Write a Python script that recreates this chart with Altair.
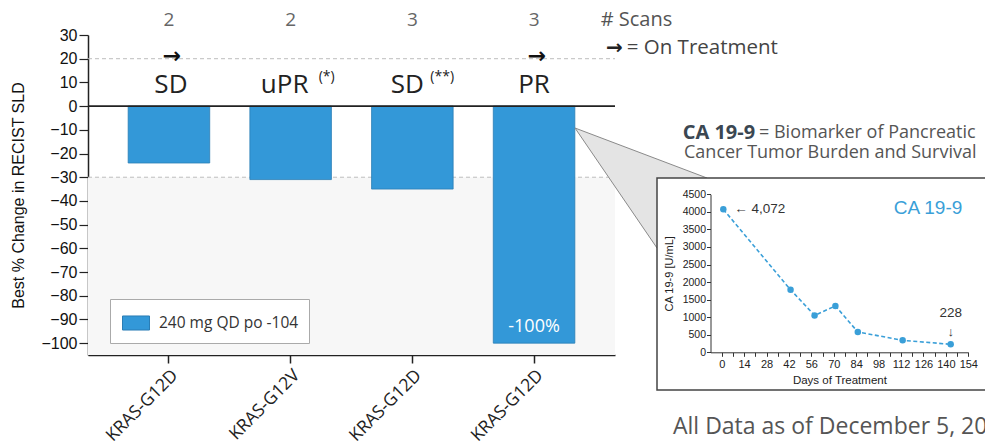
import json
import altair as alt
import pandas as pd

# ---------------- data ----------------
patients = ["P1", "P2", "P3", "P4"]
mutations = ["KRAS-G12D", "KRAS-G12V", "KRAS-G12D", "KRAS-G12D"]
best_change = [-24, -31, -35, -100]
scan_counts = [2, 2, 3, 3]
responses = ["SD", "uPR", "SD", "PR"]
superscripts = ["", "(*)", "(**)", ""]
on_treatment = [True, False, False, True]
dose_label = "240 mg QD po -104"
change_ticks = [30, 20, 10, 0, -10, -20, -30, -40, -50, -60, -70, -80, -90, -100]
reference_lines = [20, -30]

ca_days = [1, 43, 58, 71, 85, 113, 143]
ca_values = [4072, 1780, 1050, 1320, 580, 340, 228]
day_ticks = [0, 7, 14, 21, 28, 35, 42, 49, 56, 63, 70, 77, 84, 91, 98, 105,
             112, 119, 126, 133, 140, 147, 154]
ca_ticks = [0, 500, 1000, 1500, 2000, 2500, 3000, 3500, 4000, 4500]

# ---------------- styles ----------------
W, H = 527, 320
SANS = "Open Sans"
ARIAL = "Liberation Sans"
BAR = "#3398d8"
BAR_EDGE = "#2a7db5"
CA_BLUE = "#3a9fd8"

df = pd.DataFrame({
    "patient": patients, "mutation": mutations, "change": best_change,
    "scans": scan_counts, "response": responses, "sup": superscripts,
    "on": on_treatment, "dose": [dose_label] * len(patients),
})
one = pd.DataFrame({"k": [0]})

label_expr = f"{json.dumps(mutations)}[indexof({json.dumps(patients)}, datum.value)]"

x_scale = alt.Scale(domain=patients, paddingInner=0.33, paddingOuter=0.33)
x_axis = alt.Axis(title=None, labelExpr=label_expr, labelAngle=-45, labelFont=SANS,
                  labelFontSize=17.5, labelColor="#222", tickSize=8, tickColor="#222",
                  tickWidth=1.5, domainColor="#222", domainWidth=1.5, labelPadding=3,
                  grid=False)
y_scale = alt.Scale(domain=[-105, 30], nice=False, zero=False)
y_axis = alt.Axis(title="Best % Change in RECIST SLD", values=change_ticks, labelFont=ARIAL,
                  labelFontSize=16, labelColor="#111", tickSize=9, tickColor="#222",
                  tickWidth=1.2, domainColor="#222", domainWidth=1.5, labelPadding=2,
                  titleFont=ARIAL, titleFontSize=16, titleFontWeight="normal",
                  titleColor="#111", titlePadding=14, grid=False, labelOverlap=False)


def X():
    return alt.X("patient:N", scale=x_scale, axis=x_axis, sort=patients)


def Yf(field):
    return alt.Y(field, scale=y_scale, axis=y_axis)


def Yd(v):
    return alt.YDatum(v, type="quantitative", scale=y_scale, axis=y_axis)


base = alt.Chart(df)

bg = alt.Chart(one).mark_rect(color="#f7f7f7").encode(
    x=alt.value(0), x2=alt.value(W), y=Yd(-30), y2=alt.Y2Datum(-105))

refs = alt.Chart(pd.DataFrame({"level": reference_lines})).mark_rule(
    color="#bdbdbd", strokeDash=[4, 3], strokeWidth=1).encode(
    x=alt.value(0), x2=alt.value(W), y=Yf("level:Q"))

bars = base.mark_bar(stroke=BAR_EDGE, strokeWidth=0.8).encode(
    x=X(), y=Yf("change:Q"), y2=alt.Y2Datum(0),
    color=alt.Color("dose:N", scale=alt.Scale(domain=[dose_label], range=[BAR]),
                    legend=alt.Legend(orient="none", legendX=22, legendY=264, title=None,
                                      symbolType="M-1,-0.52H1V0.52H-1Z", symbolSize=729,
                                      symbolStrokeColor=BAR_EDGE, symbolStrokeWidth=1,
                                      labelFont=SANS, labelFontSize=15.5, labelColor="#333",
                                      labelOffset=9, padding=10, strokeColor="#aaaaaa",
                                      fillColor="white", symbolOffset=2, labelLimit=300)))

zero = alt.Chart(one).mark_rule(color="#222", strokeWidth=1.8).encode(
    x=alt.value(0), x2=alt.value(W), y=Yd(0))

counts = base.mark_text(font=SANS, fontSize=19, color="#666").encode(
    x=X(), y=Yd(36.3), text="scans:Q")

arrows = base.transform_filter("datum.on").mark_text(
    text="→", font="DejaVu Sans", fontSize=22, fontWeight="bold", color="#111", dx=3).encode(
    x=X(), y=Yd(21))

pct = base.transform_filter(f"datum.patient == '{patients[3]}'").transform_calculate(
    t="'' + datum.change + '%'").mark_text(
    font=SANS, fontSize=18, color="white").encode(x=X(), y=Yd(-93), text="t:N")

label_dx = {"P1": 2, "P2": -6, "P3": -5, "P4": 0}
sup_dx = {"P2": 28, "P3": 18}
label_layers = []
for p in patients:
    label_layers.append(
        base.transform_filter(f"datum.patient == '{p}'").mark_text(
            font=SANS, fontSize=26, color="#222", dx=label_dx[p]).encode(
            x=X(), y=Yd(8.9), text="response:N"))
    if p in sup_dx:
        label_layers.append(
            base.transform_filter(f"datum.patient == '{p}'").mark_text(
                font=SANS, fontSize=14, color="#222", align="left", dx=sup_dx[p]).encode(
                x=X(), y=Yd(12.2), text="sup:N"))

bar_layer = alt.layer(bg, refs, bars, zero, counts, arrows, pct, *label_layers)

# ---------------- decorations (callout, inset frame, notes) ----------------
tri = pd.DataFrame({"px": [487, 619, 569, 487], "py": [93, 143, 213, 93], "o": [0, 1, 2, 3]})
callout = alt.Chart(tri).mark_line(fill="#e4e4e4", stroke="#8a8a8a", strokeWidth=1).encode(
    x=alt.X("px:Q", scale=None), y=alt.Y("py:Q", scale=None), order="o:Q")

frame = alt.Chart(one).mark_rect(fill="white", stroke="#444", strokeWidth=1.5).encode(
    x=alt.value(569), x2=alt.value(960), y=alt.value(143), y2=alt.value(355))


def note(text, x, y, size, color, font=SANS, weight="normal", align="left"):
    return alt.Chart(one).mark_text(text=text, font=font, fontSize=size, color=color,
                                    fontWeight=weight, align=align).encode(
        x=alt.value(x), y=alt.value(y))


notes = [
    note("# Scans", 512.7, -15, 20, "#555"),
    note("→", 518, 13.3, 20, "#222", font="DejaVu Sans", weight="bold"),
    note("= On Treatment", 538.7, 13.3, 20.5, "#444"),
    note("CA 19-9", 594.7, 97.7, 20, "#3b4752", weight="bold"),
    note("= Biomarker of Pancreatic", 671, 97.7, 18, "#555"),
    note("Cancer Tumor Burden and Survival", 596, 118, 18, "#555"),
    note("All Data as of December 5, 2022", 585, 391.5, 23, "#555"),
]

deco_layer = alt.layer(callout, frame)

# ---------------- inset: CA 19-9 over time ----------------
ca_df = pd.DataFrame({"day": ca_days, "value": ca_values})
cx_scale = alt.Scale(domain=[-7, 154], range=[622.5, 880.3], nice=False, zero=False)
cx_axis = alt.Axis(orient="bottom", offset=-2.7, values=day_ticks, zindex=2,
                   labelExpr="datum.value % 14 == 0 ? datum.label : ''",
                   title="Days of Treatment", titleFont=ARIAL, titleFontSize=11.5,
                   titleFontWeight="normal", titleColor="#222", labelFont=ARIAL,
                   labelFontSize=11, labelColor="#222", tickSize=4, tickColor="#333",
                   domainColor="#333", grid=False, labelPadding=2, titlePadding=5,
                   labelFlush=False, labelOverlap=False)
cy_scale = alt.Scale(domain=[0, 4500], range=[317.3, 159.3], nice=False)
cy_axis = alt.Axis(orient="left", offset=-622.5, values=ca_ticks, title="CA 19-9 [U/mL]",
                   format="d", zindex=2, titleFont=ARIAL, titleFontSize=11,
                   titleFontWeight="normal", titleColor="#222", labelFont=ARIAL,
                   labelFontSize=10.5, labelColor="#222", tickSize=4, tickColor="#333",
                   domainColor="#333", grid=False, labelPadding=1, titlePadding=8,
                   labelOverlap=False)

cbase = alt.Chart(ca_df)
cX = alt.X("day:Q", scale=cx_scale, axis=cx_axis)
cY = alt.Y("value:Q", scale=cy_scale, axis=cy_axis)

ca_line = cbase.mark_line(color=CA_BLUE, strokeDash=[4, 2.5], strokeWidth=1.6).encode(x=cX, y=cY)
ca_pts = cbase.mark_circle(color=CA_BLUE, size=42, opacity=1).encode(x=cX, y=cY)
first_lbl = cbase.transform_filter(f"datum.day == {ca_days[0]}").transform_calculate(
    t="'← ' + format(datum.value, ',')").mark_text(
    font=ARIAL, fontSize=13.5, color="#333", align="left", dx=11).encode(x=cX, y=cY, text="t:N")
last_lbl = cbase.transform_filter(f"datum.day == {ca_days[-1]}").transform_calculate(
    t="format(datum.value, ',')").mark_text(
    font=ARIAL, fontSize=13.5, color="#333", dy=-31).encode(x=cX, y=cY, text="t:N")
last_arrow = cbase.transform_filter(f"datum.day == {ca_days[-1]}").mark_text(
    text="↓", font=ARIAL, fontSize=13, color="#333", dy=-12).encode(x=cX, y=cY)
inset_title = note("CA 19-9", 840, 173, 19, CA_BLUE, font=ARIAL, align="center")

inset_layer = alt.layer(ca_line, ca_pts, first_lbl, last_lbl, last_arrow)

chart = alt.layer(bar_layer, deco_layer, inset_layer, inset_title, *notes).resolve_scale(
    x="independent", y="independent"
).properties(
    width=W, height=H,
    padding={"left": 80, "top": 27, "right": 370, "bottom": 90},
    autosize=alt.AutoSizeParams(type="none"),
).configure_view(stroke=None)

chart.save("out.html", embed_options={"renderer": "svg", "actions": False})
